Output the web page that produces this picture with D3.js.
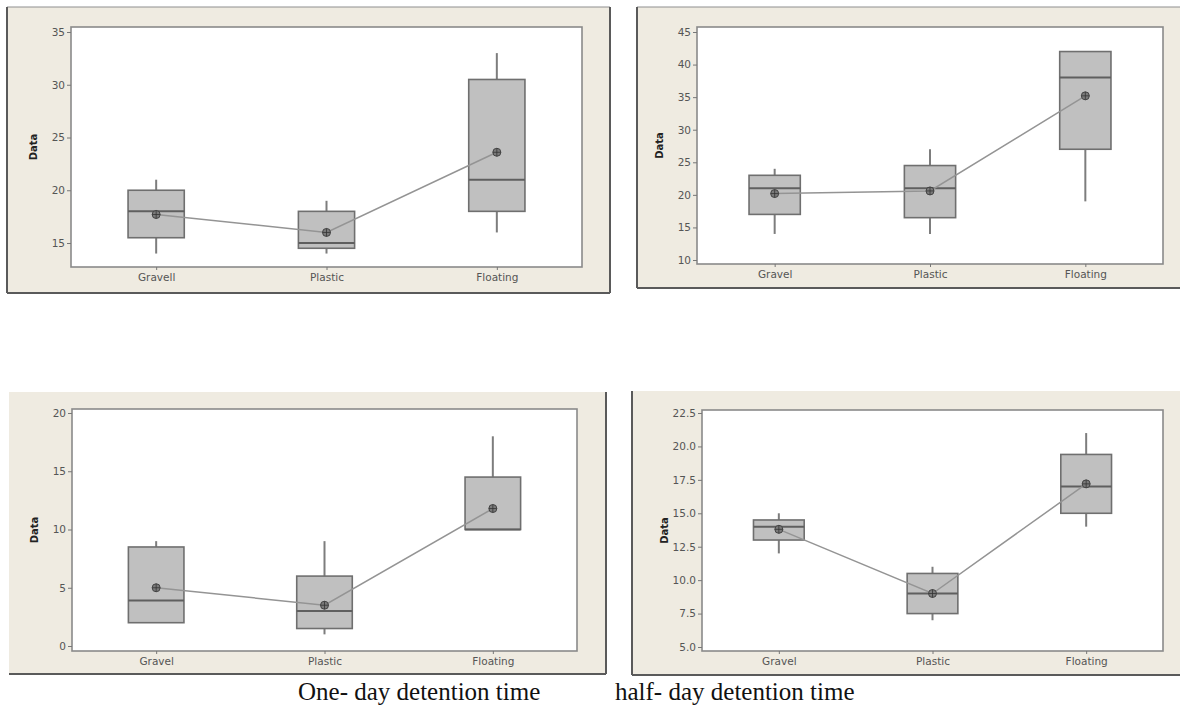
<!DOCTYPE html>
<html>
<head>
<meta charset="utf-8">
<script src="https://cdn.jsdelivr.net/npm/d3@7"></script>
<style>
  body { margin: 0; background: #fff; }
  svg { display: block; }
  .tick text { font-family: "DejaVu Sans", sans-serif; fill: #555; }
</style>
</head>
<body>
<div id="chart"></div>
<script>
'use strict';

// category labels (the top-left plot says "Gravell")
var labelsA = ['Gravell', 'Plastic', 'Floating'];
var labels = ['Gravel', 'Plastic', 'Floating'];

// one-day detention, top
var oneTopMin  = [14, 14, 16];
var oneTopQ1   = [15.5, 14.5, 18];
var oneTopMed  = [18, 15, 21];
var oneTopQ3   = [20, 18, 30.5];
var oneTopMax  = [21, 19, 33];
var oneTopMean = [17.7, 16, 23.6];
var oneTopTicks = [15, 20, 25, 30, 35];

// half-day detention, top
var halfTopMin  = [14, 14, 19];
var halfTopQ1   = [17, 16.5, 27];
var halfTopMed  = [21, 21, 38];
var halfTopQ3   = [23, 24.5, 42];
var halfTopMax  = [24, 27, 42];
var halfTopMean = [20.2, 20.6, 35.2];
var halfTopTicks = [10, 15, 20, 25, 30, 35, 40, 45];

// one-day detention, bottom
var oneBotMin  = [2, 1, 10];
var oneBotQ1   = [2, 1.5, 10];
var oneBotMed  = [3.9, 3, 10];
var oneBotQ3   = [8.5, 6, 14.5];
var oneBotMax  = [9, 9, 18];
var oneBotMean = [5, 3.5, 11.8];
var oneBotTicks = [0, 5, 10, 15, 20];

// half-day detention, bottom
var halfBotMin  = [12, 7, 14];
var halfBotQ1   = [13, 7.5, 15];
var halfBotMed  = [14, 9, 17];
var halfBotQ3   = [14.5, 10.5, 19.4];
var halfBotMax  = [15, 11, 21];
var halfBotMean = [13.8, 9, 17.2];
var halfBotTicks = [5, 7.5, 10, 12.5, 15, 17.5, 20, 22.5];

var captions = ['One- day detention time', 'half- day detention time'];

var app = {};
app.W = 1180;
app.H = 706;
app.beige = '#efebe1';

app.rows = function(cats, mn, q1, md, q3, mx, mean){
    return cats.map(function(c, i){
        return {cat: c, min: mn[i], q1: q1[i], med: md[i], q3: q3[i], max: mx[i], mean: mean[i]};
    });
};

// frame / plot-area geometry for each panel
app.panels = [
    {frame: [7, 7, 610, 293], edges: ['top', 'left', 'right', 'bottom'], plot: [71, 27, 582, 267], tickPx: [243, 32],
     cats: labelsA, ticks: oneTopTicks, fmt: d3.format('d'),
     data: app.rows(labelsA, oneTopMin, oneTopQ1, oneTopMed, oneTopQ3, oneTopMax, oneTopMean)},
    {frame: [637, 7, 1182, 288], edges: ['top', 'left', 'bottom'], plot: [697, 27, 1163, 264], tickPx: [260, 32],
     cats: labels, ticks: halfTopTicks, fmt: d3.format('d'),
     data: app.rows(labels, halfTopMin, halfTopQ1, halfTopMed, halfTopQ3, halfTopMax, halfTopMean)},
    {frame: [9, 392, 606, 674], edges: ['right', 'bottom'], plot: [72, 409, 577, 651], tickPx: [646, 413],
     cats: labels, ticks: oneBotTicks, fmt: d3.format('d'),
     data: app.rows(labels, oneBotMin, oneBotQ1, oneBotMed, oneBotQ3, oneBotMax, oneBotMean)},
    {frame: [632, 391, 1182, 675], edges: ['left', 'bottom'], plot: [702, 410, 1163, 651], tickPx: [647, 413],
     cats: labels, ticks: halfBotTicks, fmt: d3.format('.1f'),
     data: app.rows(labels, halfBotMin, halfBotQ1, halfBotMed, halfBotQ3, halfBotMax, halfBotMean)}
];

app.drawFrame = function(svg, p){
    var f = p.frame;
    svg.append('rect')
        .attr('x', f[0]).attr('y', f[1])
        .attr('width', f[2] - f[0]).attr('height', f[3] - f[1])
        .attr('fill', app.beige);

    var seg = {
        top:    [f[0], f[1], f[2], f[1]],
        left:   [f[0], f[1], f[0], f[3]],
        right:  [f[2], f[1], f[2], f[3]],
        bottom: [f[0], f[3], f[2], f[3]]
    };
    p.edges.forEach(function(e){
        var s = seg[e];
        svg.append('line')
            .attr('x1', s[0]).attr('y1', s[1]).attr('x2', s[2]).attr('y2', s[3])
            .attr('stroke', e == 'top' ? '#8f8f8f' : '#5a5a5a')
            .attr('stroke-width', e == 'top' ? 1.2 : 2);
    });
};

app.drawPanel = function(svg, p){
    app.drawFrame(svg, p);

    var pl = p.plot;
    var g = svg.append('g');

    g.append('rect')
        .attr('x', pl[0]).attr('y', pl[1])
        .attr('width', pl[2] - pl[0]).attr('height', pl[3] - pl[1])
        .attr('fill', '#fff')
        .attr('stroke', '#8a8a8a')
        .attr('stroke-width', 1.6);

    var y = d3.scaleLinear()
        .domain([p.ticks[0], p.ticks[p.ticks.length - 1]])
        .range(p.tickPx);

    var x = d3.scalePoint()
        .domain(p.cats)
        .range([pl[0], pl[2]])
        .padding(0.5);

    var bw = x.step() * 0.33;

    var yAxis = g.append('g')
        .attr('transform', 'translate(' + pl[0] + ',0)')
        .call(d3.axisLeft(y).tickValues(p.ticks).tickFormat(p.fmt).tickSize(4).tickPadding(2));
    yAxis.select('.domain').remove();
    yAxis.selectAll('line').attr('stroke', '#777');
    yAxis.selectAll('text').style('font-size', '10.5px');

    var xAxis = g.append('g')
        .attr('transform', 'translate(0,' + pl[3] + ')')
        .call(d3.axisBottom(x).tickSize(3).tickPadding(4));
    xAxis.select('.domain').remove();
    xAxis.selectAll('line').attr('stroke', '#777');
    xAxis.selectAll('text').style('font-size', '10.5px').attr('fill', '#4a4a4a');

    g.append('text')
        .attr('transform', 'translate(' + (pl[0] - 38) + ',' + ((pl[1] + pl[3]) / 2) + ') rotate(-90)')
        .attr('text-anchor', 'middle')
        .attr('dy', '0.35em')
        .style('font-family', '"DejaVu Sans", sans-serif')
        .style('font-weight', 'bold')
        .style('font-size', '10px')
        .attr('fill', '#222')
        .text('Data');

    var box = g.selectAll('.box')
        .data(p.data)
        .enter()
        .append('g')
        .attr('class', 'box');

    // whiskers
    box.filter(function(d){ return d.max > d.q3; })
        .append('line')
        .attr('x1', function(d){ return x(d.cat); })
        .attr('x2', function(d){ return x(d.cat); })
        .attr('y1', function(d){ return y(d.max); })
        .attr('y2', function(d){ return y(d.q3); })
        .attr('stroke', '#7d7d7d').attr('stroke-width', 2);

    box.filter(function(d){ return d.min < d.q1; })
        .append('line')
        .attr('x1', function(d){ return x(d.cat); })
        .attr('x2', function(d){ return x(d.cat); })
        .attr('y1', function(d){ return y(d.q1); })
        .attr('y2', function(d){ return y(d.min); })
        .attr('stroke', '#7d7d7d').attr('stroke-width', 2);

    box.append('rect')
        .attr('x', function(d){ return x(d.cat) - bw / 2; })
        .attr('y', function(d){ return y(d.q3); })
        .attr('width', bw)
        .attr('height', function(d){ return y(d.q1) - y(d.q3); })
        .attr('fill', '#c0c0c0')
        .attr('stroke', '#6f6f6f')
        .attr('stroke-width', 1.6);

    box.append('line')
        .attr('x1', function(d){ return x(d.cat) - bw / 2; })
        .attr('x2', function(d){ return x(d.cat) + bw / 2; })
        .attr('y1', function(d){ return y(d.med); })
        .attr('y2', function(d){ return y(d.med); })
        .attr('stroke', '#5f5f5f').attr('stroke-width', 2);

    // mean connect line
    var line = d3.line()
        .x(function(d){ return x(d.cat); })
        .y(function(d){ return y(d.mean); });

    g.append('path')
        .datum(p.data)
        .attr('d', line)
        .attr('fill', 'none')
        .attr('stroke', '#949494')
        .attr('stroke-width', 1.5);

    var sym = g.selectAll('.mean')
        .data(p.data)
        .enter()
        .append('g')
        .attr('class', 'mean')
        .attr('transform', function(d){ return 'translate(' + x(d.cat) + ',' + y(d.mean) + ')'; });

    sym.append('circle')
        .attr('r', 4)
        .attr('fill', '#7a7a7a')
        .attr('stroke', '#444')
        .attr('stroke-width', 1);
    sym.append('path')
        .attr('d', 'M-4,0H4M0,-4V4')
        .attr('stroke', '#333')
        .attr('stroke-width', 0.8);
};

app.run = function(){
    var svg = d3.select('#chart').append('svg')
        .attr('width', app.W)
        .attr('height', app.H);

    app.panels.forEach(function(p){
        app.drawPanel(svg, p);
    });

    svg.selectAll('.caption')
        .data(captions)
        .enter()
        .append('text')
        .attr('class', 'caption')
        .attr('x', function(d, i){ return i == 0 ? 298 : 615; })
        .attr('y', 700)
        .style('font-family', '"Liberation Serif", "Times New Roman", serif')
        .style('font-size', '25px')
        .attr('fill', '#111')
        .text(function(d){ return d; });
};

app.run();
</script>
</body>
</html>
